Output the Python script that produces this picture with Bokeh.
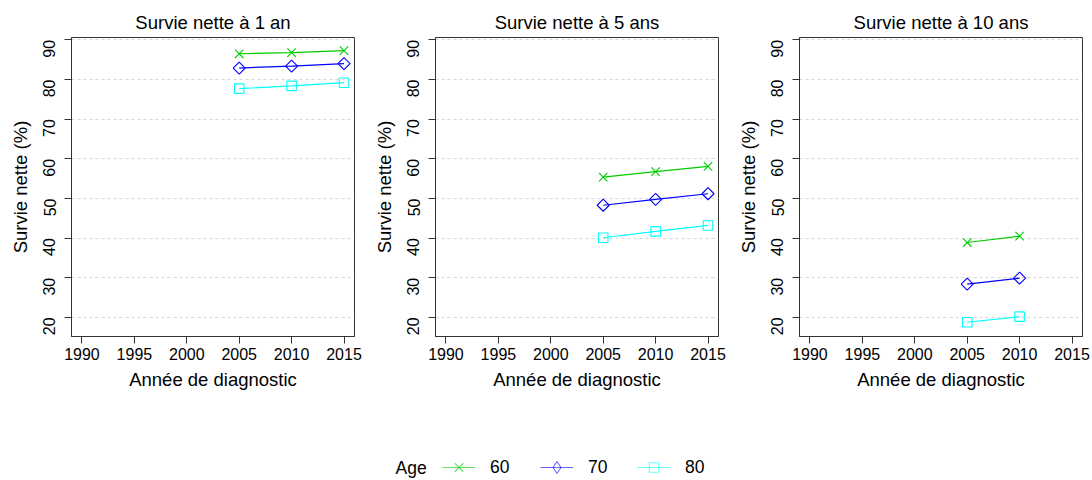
import math
from bokeh.plotting import figure
from bokeh.layouts import column, row
from bokeh.models import Range1d, FixedTicker, Legend, LegendItem, Label
from bokeh.embed import file_html
from bokeh.resources import INLINE

# ---- data ----
years_1an = [2005, 2010, 2015]
years_5ans = [2005, 2010, 2015]
years_10ans = [2005, 2010]

s1_60 = [86.5, 86.8, 87.3]
s1_70 = [82.9, 83.4, 84.0]
s1_80 = [77.7, 78.4, 79.2]

s5_60 = [55.4, 56.8, 58.1]
s5_70 = [48.3, 49.8, 51.2]
s5_80 = [40.1, 41.7, 43.2]

s10_60 = [38.9, 40.5]
s10_70 = [28.4, 29.9]
s10_80 = [18.8, 20.2]

titles = ["Survie nette à 1 an", "Survie nette à 5 ans", "Survie nette à 10 ans"]
ages = ["60", "70", "80"]
x_ticks = [1990, 1995, 2000, 2005, 2010, 2015]
y_ticks = [20, 30, 40, 50, 60, 70, 80, 90]

# ---- styles ----
FONT = "Liberation Sans"
colors = ["#00CD00", "#0000FF", "#00FFFF"]
markers = ["x", "square", "square"]
legend_markers = ["x", "diamond", "square"]
angles = [0, math.pi / 4, 0]
sizes = [12, 8.5, 9.5]


def draw_series(p, xs, ys, i, alpha=1.0, marker=None):
    rl = p.line(xs, ys, line_color=colors[i], line_width=1.2, line_alpha=alpha)
    rs = p.scatter(xs, ys, marker=marker or markers[i], angle=angles[i] if marker is None else 0,
                   size=sizes[i], line_color=colors[i], fill_color=None,
                   line_width=1.1, line_alpha=alpha)
    return rl, rs


def make_panel(title, xs, series):
    p = figure(width=364, height=400, output_backend="svg", toolbar_location=None,
               x_range=Range1d(1989, 2016), y_range=Range1d(15.2, 90.6),
               min_border_left=71, min_border_right=10, min_border_top=37,
               min_border_bottom=64, background_fill_color="white",
               border_fill_color="white")
    p.title.text = title
    p.title.align = "center"
    p.title.text_font = FONT
    p.title.text_font_size = "18.5px"
    p.title.text_font_style = "normal"
    p.title.text_color = "black"
    p.title.offset = 0
    p.title.standoff = 10

    p.xaxis.ticker = FixedTicker(ticks=x_ticks)
    p.yaxis.ticker = FixedTicker(ticks=y_ticks)
    p.xaxis.axis_label = "Année de diagnostic"
    p.yaxis.axis_label = "Survie nette (%)"
    for ax in (p.xaxis[0], p.yaxis[0]):
        ax.axis_label_text_font = FONT
        ax.axis_label_text_font_size = "18.5px"
        ax.axis_label_text_font_style = "normal"
        ax.axis_label_text_color = "black"
        ax.major_label_text_font = FONT
        ax.major_label_text_font_size = "16px"
        ax.major_label_text_color = "black"
        ax.major_tick_out = 7
        ax.major_tick_in = 0
        ax.minor_tick_out = 0
        ax.minor_tick_in = 0
        ax.axis_line_color = "#333333"
        ax.major_tick_line_color = "#333333"
    p.xaxis.major_label_standoff = 4
    p.xaxis.axis_label_standoff = 6
    p.yaxis.major_label_orientation = math.pi / 2
    p.yaxis.major_label_standoff = 15
    p.yaxis.axis_label_standoff = 4

    p.xgrid.visible = False
    p.ygrid.ticker = FixedTicker(ticks=y_ticks)
    p.ygrid.grid_line_color = "#d8d8d8"
    p.ygrid.grid_line_dash = "3 3"
    p.outline_line_color = "#333333"
    p.outline_line_width = 1

    for i, ys in enumerate(series):
        draw_series(p, xs, ys, i)
    return p


p1 = make_panel(titles[0], years_1an, [s1_60, s1_70, s1_80])
p2 = make_panel(titles[1], years_5ans, [s5_60, s5_70, s5_80])
p3 = make_panel(titles[2], years_10ans, [s10_60, s10_70, s10_80])

# ---- legend strip (its renderers lie outside the visible range; only the legend shows) ----
lf = figure(width=1092, height=80, output_backend="svg", toolbar_location=None,
            x_range=Range1d(0, 1), y_range=Range1d(0, 1), min_border=0,
            min_border_left=0, min_border_right=0, min_border_top=0, min_border_bottom=0)
lf.axis.visible = False
lf.grid.visible = False
lf.outline_line_color = None

legend_x = [442, 540, 637]
legend_gh = [30, 30, 24]
for i, (a, ys) in enumerate(zip(ages, [s1_60, s1_70, s1_80])):
    rl, rs = draw_series(lf, years_1an, ys, i, alpha=0.6, marker=legend_markers[i])
    gh = legend_gh[i]
    leg = Legend(items=[LegendItem(label=a, renderers=[rl, rs])], orientation="horizontal",
                 location=(legend_x[i], 13 - gh / 2),
                 glyph_width=33, glyph_height=gh, label_standoff=15, spacing=0,
                 padding=0, margin=0, border_line_color=None, background_fill_alpha=0,
                 label_text_font=FONT, label_text_font_size="17.5px",
                 label_text_color="black", label_height=20)
    lf.add_layout(leg)

lf.add_layout(Label(x=395, y=13, x_units="screen", y_units="screen", text="Age",
                    text_baseline="middle", text_font=FONT, text_font_size="17.5px",
                    text_color="black"))

layout = column(row(p1, p2, p3, spacing=0), lf, spacing=0)

open("out.html", "w").write(file_html(layout, INLINE))
